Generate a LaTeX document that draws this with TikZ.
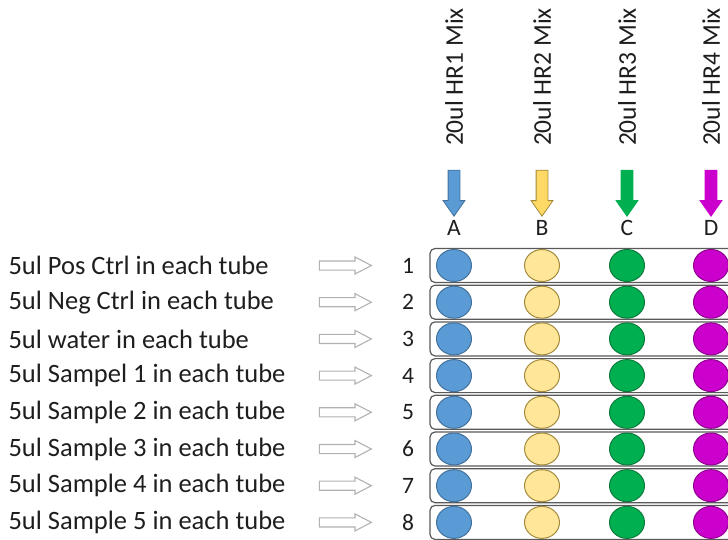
\documentclass[tikz,border=0pt]{standalone}
\usepackage{fontspec}
\setmainfont{Carlito}
\usepackage{xcolor}
\usetikzlibrary{positioning}
\usetikzlibrary{shapes.arrows,shapes.geometric}

\definecolor{mixblue}{HTML}{5B9BD5}
\definecolor{mixblueline}{HTML}{41719C}
\definecolor{mixyellow}{HTML}{FFE699}
\definecolor{mixyellowtip}{HTML}{FFD966}
\definecolor{mixyellowline}{HTML}{A38A3A}
\definecolor{mixgreen}{HTML}{00B050}
\definecolor{mixgreenline}{HTML}{0B7A3C}
\definecolor{mixpink}{HTML}{CC00CC}
\definecolor{mixpinkline}{HTML}{8E008E}
\definecolor{inkgray}{HTML}{1E1E1E}
\definecolor{boxline}{HTML}{595959}

\begin{document}
\begin{tikzpicture}[x=1pt,y=-1pt,
    every node/.style={text=inkgray},
    sampletext/.style={anchor=west,font=\fontsize{26.5}{30}\selectfont},
    smalltext/.style={font=\fontsize{23.5}{28}\selectfont},
    mixtext/.style={rotate=90,font=\fontsize{25.5}{30}\selectfont},
    hollow/.style={single arrow,draw=gray!60,fill=white,line width=1.1pt,
      inner xsep=0pt,inner ysep=4pt,minimum height=52pt,
      single arrow head extend=4pt,single arrow tip angle=55},
    droparrow/.style={single arrow,rotate=-90,line width=0.8pt,
      inner xsep=0pt,inner ysep=5.5pt,minimum height=46pt,
      single arrow head extend=5pt,single arrow tip angle=70},
    rowbox/.style={draw=boxline,line width=1.2pt,rounded corners=5pt,
      minimum width=330pt,minimum height=34pt,inner sep=0pt},
    well/.style={ellipse,line width=1pt,minimum width=35pt,minimum height=32pt,inner sep=0pt}]
  \useasboundingbox (0,0) rectangle (728,540);
  \clip (0,0) rectangle (728,540);

  % mixes on top
  \node[mixtext] (mixA) at (454,77) {20ul HR1 Mix};
  \node[mixtext] (mixB) at (542,77) {20ul HR2 Mix};
  \node[mixtext] (mixC) at (627,77) {20ul HR3 Mix};
  \node[mixtext] (mixD) at (711,77) {20ul HR4 Mix};
  \node[droparrow,fill=mixblue,draw=mixblueline] (tipA) at (454,189) {};
  \node[droparrow,fill=mixyellowtip,draw=mixyellowline] (tipB) at (542,189) {};
  \node[droparrow,fill=mixgreen,draw=mixgreen] (tipC) at (627,189) {};
  \node[droparrow,fill=mixpink,draw=mixpink] (tipD) at (711,189) {};
  \node[smalltext] (colA) at (454,228) {A};
  \node[smalltext] (colB) at (542,228) {B};
  \node[smalltext] (colC) at (627,228) {C};
  \node[smalltext] (colD) at (711,228) {D};

  % one row per tube strip
  \foreach \i/\what in {1/Pos Ctrl,2/Neg Ctrl,3/water,4/Sampel 1,
                        5/Sample 2,6/Sample 3,7/Sample 4,8/Sample 5} {
    \pgfmathsetmacro\yy{265.5+(\i-1)*36.7}
    \node[sampletext] (txt\i) at (5,\yy) {5ul \what\ in each tube};
    \node[hollow] (arr\i) at (341,\yy) {};
    \node[smalltext] (num\i) at (408,\yy) {\i};
    \node[rowbox] (row\i) at (595,\yy) {};
    \node[well,fill=mixblue,draw=mixblueline] (a\i) at (454,\yy) {};
    \node[well,fill=mixyellow,draw=mixyellowline] (b\i) at (542,\yy) {};
    \node[well,fill=mixgreen,draw=mixgreenline] (c\i) at (627,\yy) {};
    \node[well,fill=mixpink,draw=mixpinkline] (d\i) at (711,\yy) {};
  }
\end{tikzpicture}
\end{document}
